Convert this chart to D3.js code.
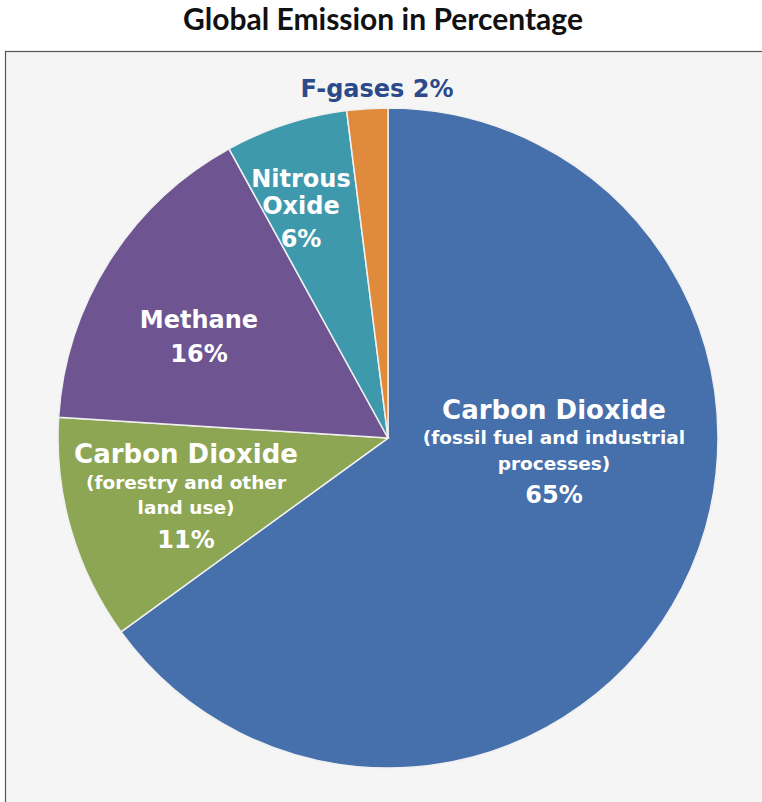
<!DOCTYPE html>
<html><head><meta charset="utf-8">
<script src="https://cdn.jsdelivr.net/npm/d3@7"></script>
<style>body{margin:0;background:#fff}svg{display:block}</style>
</head><body>
<svg id="chart" width="762" height="802"></svg>
<script>
const title = "Global Emission in Percentage";
const categories = ["Carbon Dioxide (fossil)", "Carbon Dioxide (forestry)", "Methane", "Nitrous Oxide", "F-gases"];
const values = [65, 11, 16, 6, 2];
const colors = ["#4570ab", "#8da653", "#6e5591", "#3f99ac", "#e08a3b"];
const labelLines = [
  ["Carbon Dioxide", "(fossil fuel and industrial", "processes)", "65%"],
  ["Carbon Dioxide", "(forestry and other", "land use)", "11%"],
  ["Methane", "16%"],
  ["Nitrous", "Oxide", "6%"],
  ["F-gases 2%"]
];

const svg = d3.select("#chart");
svg.append("text").attr("x", 383).attr("y", 30).attr("text-anchor", "middle")
  .attr("font-family", "Lato, sans-serif").attr("font-weight", "bold").attr("font-size", 30)
  .attr("fill", "#111").text(title);

svg.append("rect").attr("x", 5.5).attr("y", 51.5).attr("width", 800).attr("height", 800)
  .attr("fill", "#f5f5f5").attr("stroke", "#555").attr("stroke-width", 1.2);

const cx = 388, cy = 438, R = 330;
const pie = d3.pie().sort(null).value(d => d)(values);
const arc = d3.arc().innerRadius(0).outerRadius(R);
const g = svg.append("g").attr("transform", `translate(${cx},${cy})`);
g.selectAll("path").data(pie).join("path")
  .attr("d", arc).attr("fill", (d, i) => colors[i])
  .attr("stroke", "#f0f0f0").attr("stroke-width", 1.5);

// label layout: [x, baselines[], sizes[], color]
const labelPos = [
  {x: 554, y: [419, 444, 470, 503], s: [26, 18.5, 18.5, 24], c: "#fff"},
  {x: 186, y: [463, 489, 514, 548], s: [26, 18.5, 18.5, 24], c: "#fff"},
  {x: 199, y: [328, 362], s: [24, 24], c: "#fff"},
  {x: 301, y: [187, 214, 247], s: [24, 24, 24], c: "#fff"},
  {x: 377, y: [97], s: [24], c: "#2c4a8a"}
];
labelLines.forEach((lines, i) => {
  const p = labelPos[i];
  lines.forEach((t, j) => {
    svg.append("text").attr("x", p.x).attr("y", p.y[j]).attr("text-anchor", "middle")
      .attr("font-family", "'DejaVu Sans', Verdana, sans-serif").attr("font-weight", "bold")
      .attr("font-size", p.s[j]).attr("fill", p.c).text(t);
  });
});
</script>
</body></html>
